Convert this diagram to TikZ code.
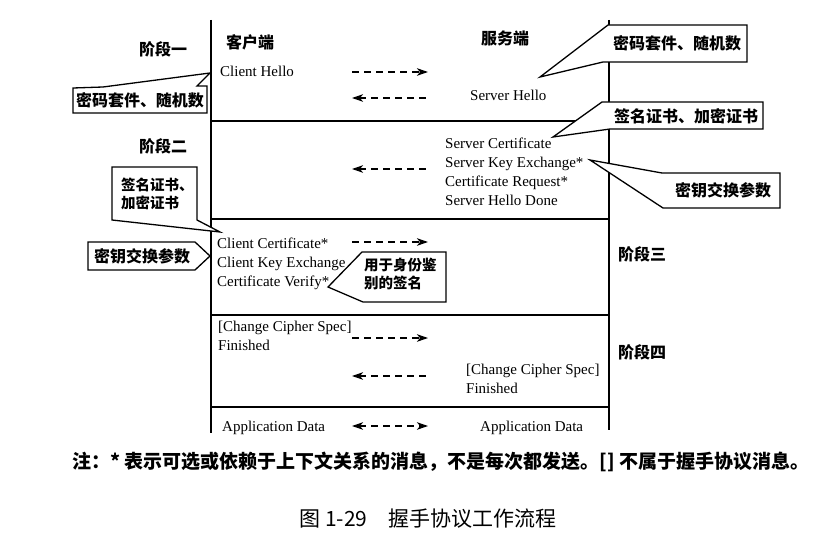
\documentclass[tikz,border=0pt]{standalone}
\usepackage{fontspec}
\setmainfont{Liberation Serif}
\newfontfamily\cjk{Noto Sans CJK SC}
\usetikzlibrary{arrows.meta}
\tikzset{
  tipa/.tip={Stealth[length=11pt,width=7.5pt,inset=3pt]},
  frame/.style={line width=1.4pt},
  bubble/.style={draw, line width=1.3pt, fill=white, line join=miter},
  msg/.style={line width=1.6pt, dash pattern=on 7pt off 5pt, -tipa},
  msgback/.style={line width=1.6pt, dash pattern=on 7pt off 5pt, tipa-},
  msgboth/.style={line width=1.6pt, dash pattern=on 7pt off 5pt, tipa-tipa},
  en/.style={font=\fontsize{15}{18}\selectfont, inner sep=0pt, anchor=base west},
  phase/.style={font=\cjk\bfseries\fontsize{16}{18}\selectfont, inner sep=0pt},
  bubtext/.style={font=\cjk\bfseries\fontsize{16}{18}\selectfont, inner sep=0pt},
  bubsmall/.style={font=\cjk\bfseries\fontsize{14.5}{18}\selectfont, inner sep=0pt, anchor=west},
}
\begin{document}
\begin{tikzpicture}[x=1pt,y=-1pt]
\useasboundingbox[fill=white] (0,0) rectangle (839,551);

% frame lines
\coordinate (lt) at (211,20); \coordinate (lb) at (211,433);
\coordinate (rt) at (609,20); \coordinate (rb) at (609,430);
\draw[frame] (lt) -- (lb);
\draw[frame] (rt) -- (rb);
\coordinate (h1l) at (211,121); \coordinate (h1r) at (609,121);
\coordinate (h2l) at (211,219); \coordinate (h2r) at (609,219);
\coordinate (h3l) at (211,315); \coordinate (h3r) at (609,315);
\coordinate (h4l) at (211,407); \coordinate (h4r) at (609,407);
\draw[frame] (h1l) -- (h1r);
\draw[frame] (h2l) -- (h2r);
\draw[frame] (h3l) -- (h3r);
\draw[frame] (h4l) -- (h4r);

% headers and phase labels
\node[phase] (p1) at (163,49) {阶段一};
\node[phase] (p2) at (163,146) {阶段二};
\node[phase] (p3) at (642,254) {阶段三};
\node[phase] (p4) at (642,352) {阶段四};
\node[phase] (cli) at (250,42) {客户端};
\node[phase] (srv) at (505,38) {服务端};

% messages
\node[en] (ch) at (220,77) {Client Hello};
\node[en] (sh) at (470,101) {Server Hello};
\node[en] (sc1) at (445,148) {Server Certificate};
\node[en] (sc2) at (445,167) {Server Key Exchange*};
\node[en] (sc3) at (445,186) {Certificate Request*};
\node[en] (sc4) at (445,205) {Server Hello Done};
\node[en] (cc1) at (217,248) {Client Certificate*};
\node[en] (cc2) at (217,267) {Client Key Exchange};
\node[en] (cc3) at (217,286) {Certificate Verify*};
\node[en] (ccs1) at (218,331) {[Change Cipher Spec]};
\node[en] (fin1) at (218,350) {Finished};
\node[en] (ccs2) at (466,374) {[Change Cipher Spec]};
\node[en] (fin2) at (466,393) {Finished};
\node[en] (ad1) at (222,431) {Application Data};
\node[en] (ad2) at (480,431) {Application Data};

% arrows
\coordinate (a1s) at (352,72);  \coordinate (a1e) at (428,72);
\coordinate (a2s) at (352,98);  \coordinate (a2e) at (428,98);
\coordinate (a3s) at (352,169); \coordinate (a3e) at (428,169);
\coordinate (a4s) at (352,242); \coordinate (a4e) at (428,242);
\coordinate (a5s) at (352,338); \coordinate (a5e) at (428,338);
\coordinate (a6s) at (352,376); \coordinate (a6e) at (428,376);
\coordinate (a7s) at (352,426); \coordinate (a7e) at (428,426);
\draw[msg] (a1s) -- (a1e);
\draw[msgback] (a2s) -- (a2e);
\draw[msgback] (a3s) -- (a3e);
\draw[msg] (a4s) -- (a4e);
\draw[msg] (a5s) -- (a5e);
\draw[msgback] (a6s) -- (a6e);
\draw[msgboth] (a7s) -- (a7e);

% callouts
\draw[bubble] (73,113) -- (73,88) -- (103,87) -- (210,73) -- (197,86) -- (207,86) -- (207,113) -- cycle;
\node[bubtext] (ba) at (140,100) {密码套件、随机数};

\draw[bubble] (608,25) -- (747,25) -- (747,62) -- (603,62) -- (540,77) -- cycle;
\node[bubtext] (bb) at (677,43) {密码套件、随机数};

\draw[bubble] (602,102) -- (763,102) -- (763,129) -- (610,129) -- (553,137) -- cycle;
\node[bubtext] (bc) at (686,116) {签名证书、加密证书};

\draw[bubble] (662,173) -- (780,173) -- (780,208) -- (663,208) -- (590,160) -- cycle;
\node[bubtext] (bd) at (723,190) {密钥交换参数};

\draw[bubble] (112,167) -- (197,167) -- (197,220) -- (220,232) -- (112,220) -- cycle;
\node[bubsmall] (be1) at (121,185) {签名证书、};
\node[bubsmall] (be2) at (121,203) {加密证书};

\draw[bubble] (88,242) -- (195,242) -- (210,256) -- (195,270) -- (88,270) -- cycle;
\node[bubtext] (bf) at (142,256) {密钥交换参数};

\draw[bubble] (362,252) -- (446,252) -- (446,302) -- (363,302) -- (328,287) -- cycle;
\node[bubsmall] (bg1) at (364,265) {用于身份鉴};
\node[bubsmall] (bg2) at (364,283) {别的签名};

% note and caption
\node[font=\cjk\bfseries\fontsize{19}{21}\selectfont, inner sep=0pt] (note) at (441,462) {注：* 表示可选或依赖于上下文关系的消息，不是每次都发送。[] 不属于握手协议消息。};
\node[font=\cjk\fontsize{21}{23}\selectfont, inner sep=0pt] (cap) at (428,519) {图 1-29\hspace{1em}握手协议工作流程};
\end{tikzpicture}
\end{document}
